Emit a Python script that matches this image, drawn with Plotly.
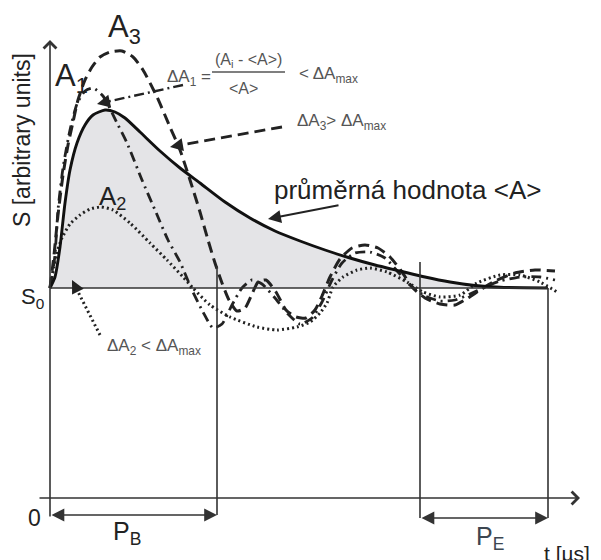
import math
import plotly.graph_objects as go

# Time t in microseconds (arbitrary scale), signal S measured from the baseline S0.
t_mean = [0, 0.5, 1.0, 1.5, 2.0, 2.7, 3.5, 4.3, 5.5, 6.5, 7.5, 9.0, 11.0, 13.0, 15.0,
          17.5, 20.0, 22.5, 25.0, 27.5, 30.0, 32.5, 35.0, 37.5, 40.0, 42.5, 45.0, 49.8]
s_mean = [0, 1.1, 4.1, 8.5, 11.8, 14.5, 16.3, 17.3, 17.8, 17.6, 17.0, 15.6, 13.7, 12.0, 10.5,
          8.6, 7.0, 5.7, 4.7, 3.8, 3.0, 2.3, 1.7, 1.1, 0.6, 0.25, 0.07, 0]

t_a1 = [0, 0.3, 0.5, 0.8, 1.3, 2.0, 2.7, 3.5, 4.3, 5.3, 6.7, 7.7, 9.2, 10.5, 11.8, 13.0,
        14.2, 15.3, 16.3, 17.2, 18.2, 19.2, 20.2, 21.2, 22.5, 23.8, 25.0, 26.2, 27.2, 28.2,
        29.2, 30.5, 32.0, 33.5, 34.8, 36.0, 37.5, 39.0, 40.5, 42.0, 43.5, 45.0, 47.0, 49.0, 50.5]
s_a1 = [0, 1.8, 3.3, 7.8, 12.0, 15.8, 18.4, 19.7, 20.0, 19.2, 16.5, 14.5, 10.8, 7.8, 4.8, 2.6,
        -0.2, -2.4, -4.0, -3.6, -1.7, 0, 0.8, 0.4, -1.0, -2.6, -3.6, -3.0, -1.4, 0.8,
        2.5, 3.5, 3.6, 3.0, 1.6, 0.3, -0.8, -1.3, -1.2, -0.6, 0.1, 0.7, 1.1, 1.1, 0.8]

t_a2 = [0, 0.3, 0.6, 1.2, 2.0, 3.0, 4.0, 5.1, 6.3, 8.0, 10.0, 11.7, 13.3, 14.3, 16.0, 18.0,
        20.7, 22.7, 24.7, 26.0, 27.0, 27.7, 28.3, 29.3, 30.7, 32.0, 33.7, 35.7, 37.3, 39.0,
        41.0, 42.7, 45.0, 47.0, 49.0, 50.7]
s_a2 = [0, 1.6, 3.3, 5.0, 6.4, 7.3, 7.9, 8.1, 7.8, 6.5, 4.5, 2.8, 1.1, 0, -1.7, -2.9,
        -3.9, -4.2, -3.9, -3.4, -2.5, -1.5, 0.1, 1.1, 1.8, 2.0, 1.6, 0.6, -0.4, -0.9,
        -0.7, 0.5, 1.3, 1.3, 0.6, -0.4]

t_a3 = [0, 0.4, 0.8, 1.3, 1.8, 2.3, 2.8, 3.5, 4.2, 5.0, 6.0, 7.2, 8.3, 9.3, 10.7, 12.0,
        13.0, 14.0, 15.0, 15.8, 16.5, 17.2, 17.9, 18.7, 19.5, 20.2, 20.8, 21.6, 22.6, 23.6,
        24.6, 25.6, 26.5, 27.2, 28.0, 29.0, 30.2, 31.5, 32.8, 34.0, 35.2, 36.2, 37.5, 39.0,
        40.5, 41.8, 43.0, 44.5, 46.5, 48.5, 50.5]
s_a3 = [0, 3.3, 7.3, 11.3, 14.3, 16.6, 18.8, 20.8, 22.1, 23.1, 23.6, 23.7, 23.1, 21.8, 19.1, 16.1,
        13.8, 10.8, 7.6, 4.8, 2.5, 0.5, -1.2, -2.3, -2.0, -0.6, 0.6, 0.8, -0.4, -2.2,
        -2.9, -3.0, -2.2, -0.8, 1.1, 2.9, 4.0, 4.3, 4.0, 3.1, 1.6, 0.1, -1.0, -1.6,
        -1.7, -1.0, -0.2, 0.7, 1.5, 1.8, 1.7]

# Evaluation windows P_B and P_E and the frame of the diagram
T_PB_END = 16.7
T_PE_START = 37.0
T_PE_END = 49.8
S_PB_TOP = 2.2
S_PE_TOP = 2.6
S_TAXIS = -21.0
S_PB_ROW = -22.7
S_PE_ROW = -23.0
T_TAXIS_START = -1.2
T_TAXIS_END = 53.0
S_YAXIS_TOP = 24.8
S_YAXIS_BOTTOM = -23.0

INK = "#222222"
GREY_TEXT = "#555555"
FONT = "Liberation Sans, Arial, sans-serif"

fig = go.Figure()

# shaded area under the mean curve
fig.add_trace(go.Scatter(x=t_mean, y=s_mean, mode="lines", fill="tozeroy",
                         fillcolor="#e4e4e7", line=dict(width=0, shape="spline", smoothing=0.6),
                         hoverinfo="skip"))
fig.add_trace(go.Scatter(x=t_a2, y=s_a2, mode="lines",
                         line=dict(color=INK, width=3, dash="2px,3px", shape="spline", smoothing=0.6)))
fig.add_trace(go.Scatter(x=t_a1, y=s_a1, mode="lines",
                         line=dict(color=INK, width=2.8, dash="10px,5px,2px,5px", shape="spline", smoothing=0.6)))
fig.add_trace(go.Scatter(x=t_a3, y=s_a3, mode="lines",
                         line=dict(color=INK, width=3, dash="11px,6px", shape="spline", smoothing=0.6)))
fig.add_trace(go.Scatter(x=t_mean, y=s_mean, mode="lines",
                         line=dict(color="#111111", width=2.9, shape="spline", smoothing=0.6)))

# baseline S0 and the window borders
frame_lines = [
    ((0, 0), (T_PE_END, 0)),
    ((T_PB_END, S_PB_TOP), (T_PB_END, S_PB_ROW)),
    ((T_PE_START, S_PE_TOP), (T_PE_START, S_PE_ROW)),
    ((T_PE_END, 0), (T_PE_END, S_PE_ROW)),
]
for (x0, y0), (x1, y1) in frame_lines:
    fig.add_shape(type="line", x0=x0, y0=y0, x1=x1, y1=y1, xref="x", yref="y",
                  line=dict(color="#333333", width=1.6))


def arrow(x, y, ax, ay, head=2, size=1.35, width=2.0, side="end", color=INK):
    fig.add_annotation(x=x, y=y, ax=ax, ay=ay, xref="x", yref="y", axref="x", ayref="y",
                       text="", showarrow=True, arrowhead=head, arrowsize=size,
                       arrowwidth=width, arrowcolor=color, arrowside=side,
                       startarrowhead=head, startarrowsize=size, standoff=0, startstandoff=0)


# axes with open arrow tips
arrow(T_TAXIS_END, S_TAXIS, T_TAXIS_START, S_TAXIS, head=4, size=1.55, width=1.6, color="#333333")
arrow(0, S_YAXIS_TOP, 0, S_YAXIS_BOTTOM, head=4, size=1.55, width=1.6, color="#333333")

# window widths P_B and P_E
arrow(T_PB_END, S_PB_ROW, 0, S_PB_ROW, head=2, size=1.6, width=1.6, side="end+start", color="#333333")
arrow(T_PE_END, S_PE_ROW, T_PE_START, S_PE_ROW, head=2, size=1.6, width=1.6, side="end+start", color="#333333")

# pointers from the annotations to the curves
pointers = [
    dict(tail=(13.3, 20.3), head=(4.7, 18.4), dash="10px,4px,2px,4px", width=2.4),
    dict(tail=(23.2, 16.1), head=(12.0, 14.1), dash="11px,6px", width=2.8),
    dict(tail=(5.0, -4.7), head=(2.2, 0.8), dash="2px,3px", width=3),
]
for p in pointers:
    (tx, ty), (hx, hy) = p["tail"], p["head"]
    dx, dy = tx - hx, ty - hy
    n = math.hypot(dx, dy)
    ux, uy = dx / n, dy / n
    fig.add_trace(go.Scatter(x=[tx, hx + ux * 0.8], y=[ty, hy + uy * 0.8], mode="lines",
                             line=dict(color=INK, width=p["width"], dash=p["dash"])))
    arrow(hx, hy, hx + ux * 1.3, hy + uy * 1.3, head=2, size=1.3, width=2.0)

# pointer to the mean curve (solid)
arrow(21.8, 6.9, 29.0, 8.3, head=2, size=1.3, width=2.0)


def label(x, y, text, size, color=INK, xanchor="center", angle=0):
    fig.add_annotation(x=x, y=y, xref="x", yref="y", text=text, showarrow=False,
                       xanchor=xanchor, yanchor="middle", textangle=angle,
                       font=dict(family=FONT, size=size, color=color))


label(7.45, 25.9, "A<sub>3</sub>", 31)
label(2.15, 21.0, "A<sub>1</sub>", 31)
label(6.2, 9.1, "A<sub>2</sub>", 26)

label(11.5, 21.0, "ΔA<sub>1</sub> =", 17, GREY_TEXT, xanchor="left")
label(19.85, 22.8, "(A<sub>i</sub> - &lt;A&gt;)", 16, GREY_TEXT)
fig.add_shape(type="line", x0=16.2, y0=21.6, x1=23.5, y1=21.6, xref="x", yref="y",
              line=dict(color=GREY_TEXT, width=1.6))
label(19.3, 20.0, "&lt;A&gt;", 16, GREY_TEXT)
label(24.7, 21.3, "&lt; ΔA<sub>max</sub>", 17, GREY_TEXT, xanchor="left")
label(24.5, 16.6, "ΔA<sub>3</sub>&gt; ΔA<sub>max</sub>", 17, GREY_TEXT, xanchor="left")
label(5.5, -5.9, "ΔA<sub>2</sub> &lt; ΔA<sub>max</sub>", 17, GREY_TEXT, xanchor="left")

label(22.2, 9.8, "průměrná hodnota &lt;A&gt;", 26, xanchor="left")

label(-2.8, 14.8, "S [arbitrary units]", 23, angle=-90)
label(-1.8, -1.0, "S<sub>0</sub>", 22)
label(-1.6, -23.0, "0", 23)
label(7.7, -24.5, "P<sub>B</sub>", 25)
label(44.0, -25.0, "P<sub>E</sub>", 25, color="#3c4650")
label(49.2, -26.5, "t [µs]", 21, xanchor="left")

fig.update_layout(
    width=601, height=560,
    margin=dict(l=0, r=0, t=0, b=0),
    paper_bgcolor="white", plot_bgcolor="white",
    showlegend=False,
    xaxis=dict(range=[-5.0, 55.1], visible=False, fixedrange=True),
    yaxis=dict(range=[-27.2, 28.8], visible=False, fixedrange=True),
)

fig.write_html("out.html")
